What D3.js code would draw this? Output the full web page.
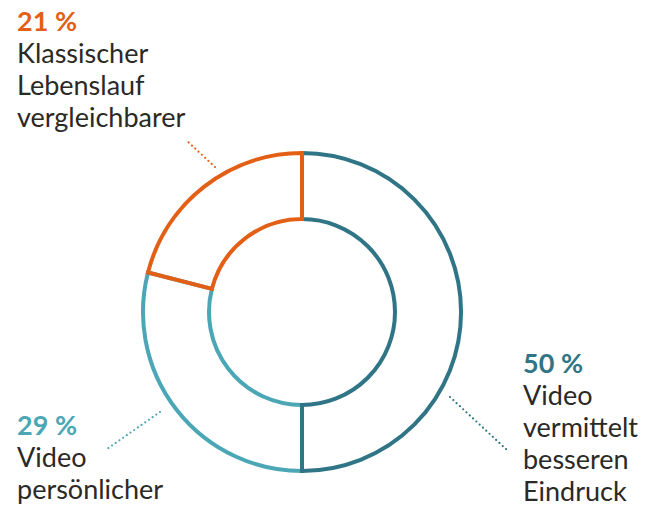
<!DOCTYPE html>
<html>
<head>
<meta charset="utf-8">
<script src="https://cdn.jsdelivr.net/npm/d3@7"></script>
<style>
  body { margin: 0; background: #fff; }
  svg text { font-family: Lato, "Open Sans", sans-serif; }
</style>
</head>
<body>
<svg id="donut" width="657" height="507"></svg>
<script>
// Data
const categories = ["Video vermittelt besseren Eindruck", "Video persönlicher", "Klassischer Lebenslauf vergleichbarer"];
const values = [50, 29, 21];
const colors = ["#2f7586", "#4ba6b5", "#e35f15"];
const labelLines = [
  ["Video", "vermittelt", "besseren", "Eindruck"],
  ["Video", "persönlicher"],
  ["Klassischer", "Lebenslauf", "vergleichbarer"]
];
// draw order so boundaries match (light teal under dark teal under orange)
const drawOrder = [1, 0, 2];

const svg = d3.select("#donut");
const cx = 302, cy = 312;
const outerR = 159, innerR = 93;

const pie = d3.pie().sort(null).value((d) => d.value);
const arcs = pie(categories.map((c, i) => ({ name: c, value: values[i], color: colors[i] })));
const arc = d3.arc().innerRadius(innerR).outerRadius(outerR);

const g = svg.append("g").attr("transform", `translate(${cx},${cy})`);
g.selectAll("path")
  .data(drawOrder.map((i) => arcs[i]))
  .enter()
  .append("path")
  .attr("d", arc)
  .style("fill", "none")
  .style("stroke", (d) => d.data.color)
  .style("stroke-width", 4)
  .style("stroke-linejoin", "miter");

// Leader lines (dotted)
const leaders = [
  { i: 0, from: [450, 397], to: [507, 450] },
  { i: 1, from: [160, 412], to: [107, 449] },
  { i: 2, from: [215, 167], to: [186, 140] }
];
svg.selectAll(".leader")
  .data(leaders)
  .enter()
  .append("line")
  .classed("leader", true)
  .attr("x1", (d) => d.from[0])
  .attr("y1", (d) => d.from[1])
  .attr("x2", (d) => d.to[0])
  .attr("y2", (d) => d.to[1])
  .style("stroke", (d) => colors[d.i])
  .style("stroke-width", 2.2)
  .style("stroke-linecap", "round")
  .style("stroke-dasharray", "0,4.5");

// Labels
const labelPos = [
  { x: 523, y: 373 },
  { x: 17, y: 435 },
  { x: 17, y: 31 }
];
const lineH = 32;
labelPos.forEach((p, i) => {
  const t = svg.append("text").attr("x", p.x).attr("y", p.y).style("font-size", "27px");
  t.append("tspan")
    .attr("x", p.x)
    .style("font-weight", 700)
    .style("fill", colors[i])
    .text(values[i] + " %");
  labelLines[i].forEach((line, j) => {
    t.append("tspan")
      .attr("x", p.x)
      .attr("dy", lineH)
      .style("fill", "#2b2926")
      .text(line);
  });
});
</script>
</body>
</html>
